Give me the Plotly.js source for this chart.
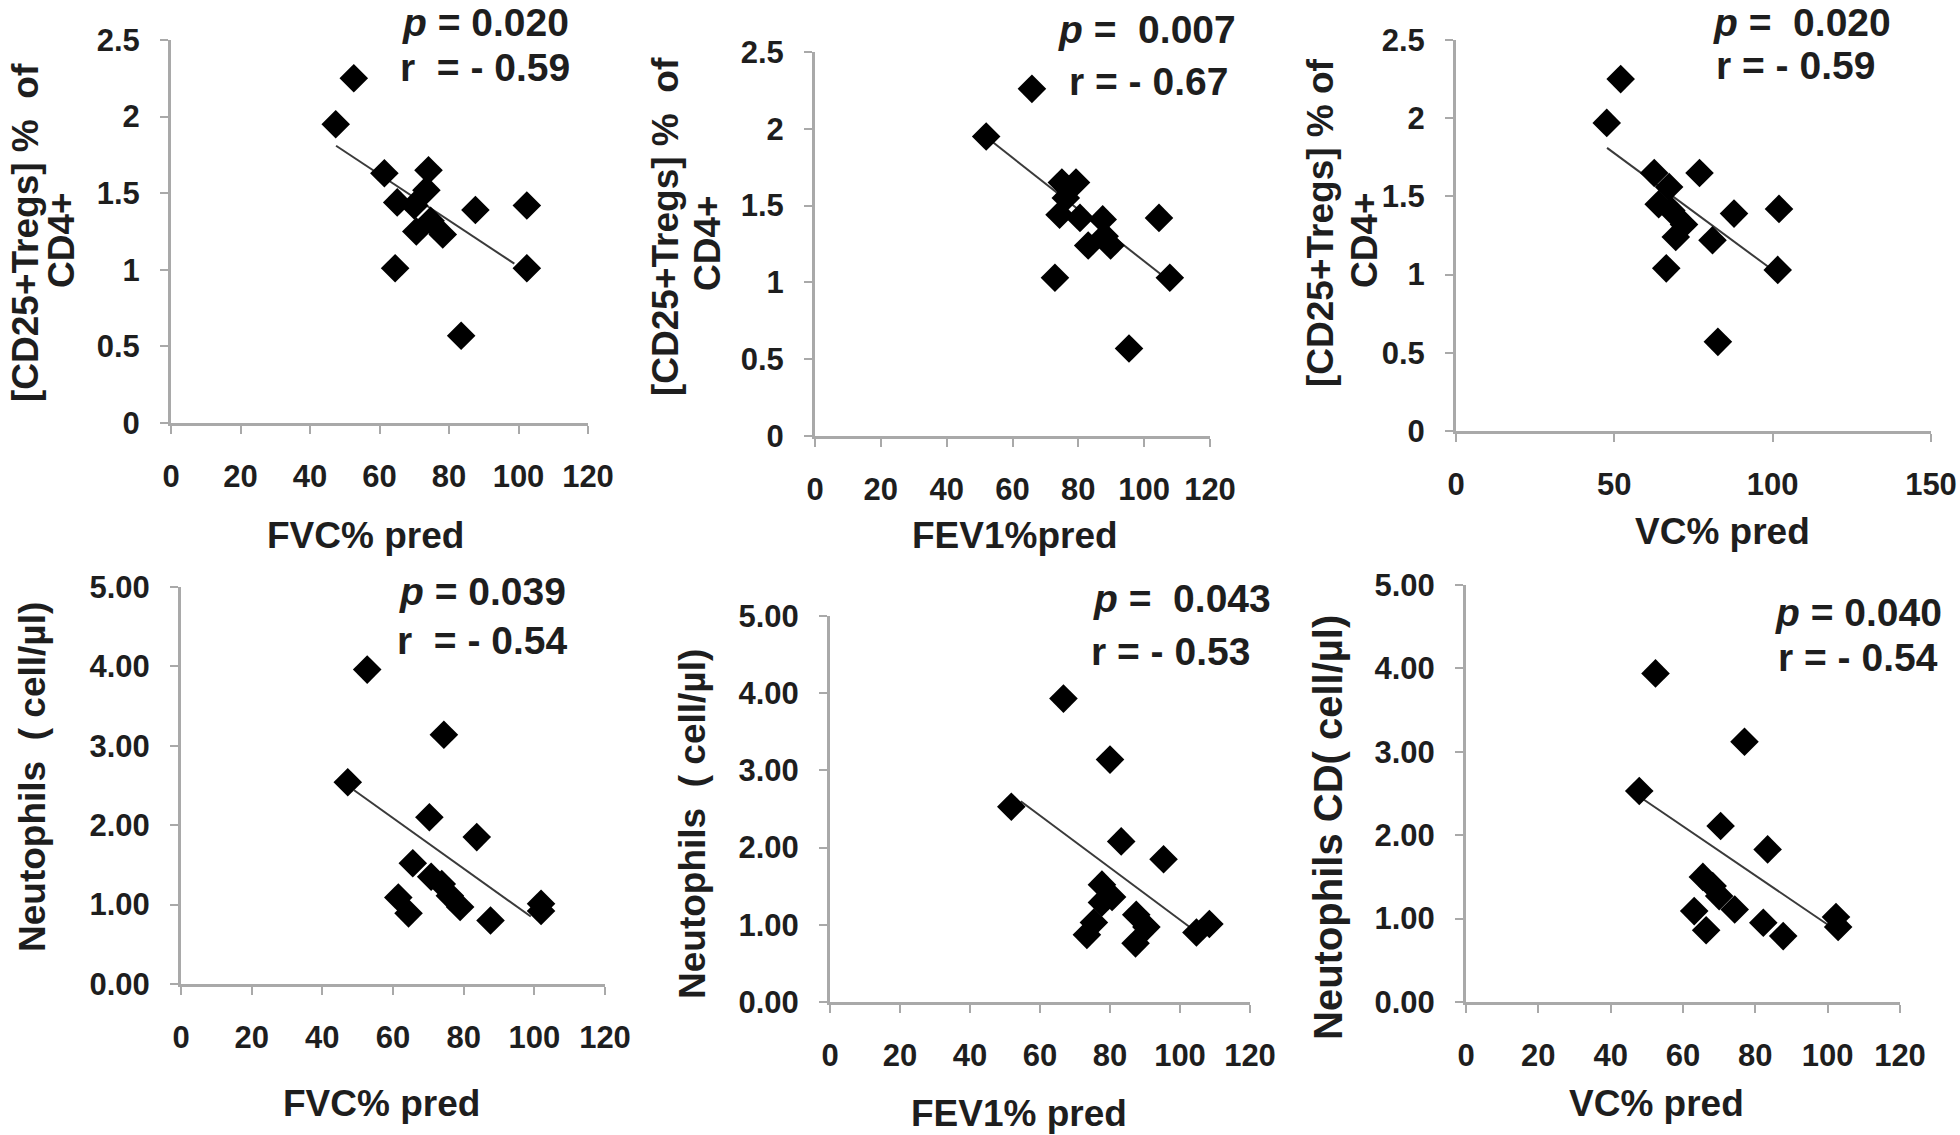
<!DOCTYPE html>
<html><head><meta charset="utf-8">
<script src="https://cdn.plot.ly/plotly-3.0.1.min.js"></script>
<style>html,body{margin:0;padding:0;background:#fff}</style></head>
<body><div id="chart" style="width:1960px;height:1135px"></div>
<script>
// ---- data ----
const fvcTregsX = [52.6,47.4,61.4,74.1,73.5,65.1,70.0,87.6,102.4,70.6,74.7,78.2,64.5,102.4,83.5];
const fvcTregsY = [2.25,1.95,1.63,1.65,1.52,1.44,1.42,1.39,1.42,1.25,1.32,1.23,1.01,1.01,0.57];
const fev1TregsX = [65.9,52.0,75.0,79.3,76.2,74.3,80.5,87.4,104.5,88.0,83.0,89.8,72.9,107.8,95.4];
const fev1TregsY = [2.26,1.95,1.65,1.65,1.55,1.44,1.42,1.41,1.42,1.30,1.24,1.24,1.03,1.03,0.57];
const vcTregsX = [52.0,47.6,62.6,76.9,67.3,64.0,68.0,87.8,102.0,72.0,69.4,81.0,66.4,101.6,82.7];
const vcTregsY = [2.25,1.97,1.65,1.65,1.56,1.45,1.41,1.39,1.42,1.32,1.24,1.22,1.04,1.03,0.57];
const fvcNeutX = [52.7,74.4,47.2,70.3,83.7,65.6,70.8,73.8,76.1,79.0,61.5,64.4,87.6,101.9,101.9];
const fvcNeutY = [3.96,3.14,2.54,2.10,1.85,1.52,1.35,1.26,1.11,0.97,1.09,0.89,0.80,1.01,0.92];
const fev1NeutX = [66.7,80.0,51.8,83.2,95.3,77.7,80.6,77.7,75.4,73.4,87.5,90.4,87.3,104.7,108.4];
const fev1NeutY = [3.93,3.14,2.53,2.08,1.85,1.52,1.36,1.29,1.03,0.87,1.13,0.97,0.76,0.90,1.01];
const vcNeutX = [52.4,77.0,47.9,70.4,83.4,65.5,68.2,70.0,74.3,63.1,66.4,82.2,87.7,102.3,102.9];
const vcNeutY = [3.94,3.12,2.53,2.11,1.83,1.50,1.39,1.27,1.11,1.09,0.86,0.95,0.79,1.02,0.90];

// trend line end points
const fvcTregsTrendX = [47.5,98.8],  fvcTregsTrendY = [1.81,1.04];
const fev1TregsTrendX = [53.0,107.0], fev1TregsTrendY = [1.93,1.02];
const vcTregsTrendX = [47.7,98.6],   vcTregsTrendY = [1.81,1.05];
const fvcNeutTrendX = [49.0,99.0],   fvcNeutTrendY = [2.44,0.85];
const fev1NeutTrendX = [54.5,104.0], fev1NeutTrendY = [2.60,0.93];
const vcNeutTrendX = [48.7,102.3],   vcNeutTrendY = [2.44,0.86];

const xTitles = ["FVC% pred","FEV1%pred","VC% pred","FVC% pred","FEV1% pred","VC% pred"];
const yTitles = [["[CD25+Tregs] %&nbsp;&nbsp;of","CD4+"],["[CD25+Tregs] %&nbsp;&nbsp;of","CD4+"],["[CD25+Tregs] % of","CD4+"],
                 ["Neutophils&nbsp;&nbsp;( cell/µl)"],["Neutophils&nbsp;&nbsp;( cell/µl)"],["Neutophils CD( cell/µl)"]];
const pTexts = ["<i>p</i> = 0.020","<i>p</i> =&nbsp;&nbsp;0.007","<i>p</i> =&nbsp;&nbsp;0.020","<i>p</i> = 0.039","<i>p</i> =&nbsp;&nbsp;0.043","<i>p</i> = 0.040"];
const rTexts = ["r&nbsp;&nbsp;= - 0.59","r = - 0.67","r = - 0.59","r&nbsp;&nbsp;= - 0.54","r = - 0.53","r = - 0.54"];
const xRanges = [[0,120],[0,120],[0,150],[0,120],[0,120],[0,120]];
const xDticks = [20,20,50,20,20,20];
const yRanges = [[0,2.5],[0,2.5],[0,2.5],[0,5],[0,5],[0,5]];
const yDticks = [0.5,0.5,0.5,1,1,1];
const yFormats = ["","","",".2f",".2f",".2f"];

// ---- layout (pixel boxes) ----
const W = 1960, H = 1135;
const px = v => v / W, py = v => 1 - v / H;
const boxes = [ // x0,x1,yTop,yBottom in px
  [171,588,40,423],[815,1210,52,436],[1456,1931,40,431],
  [181,605,587,984],[830,1250,616,1002],[1466,1900,585,1002]];
const xTitlePos = [[365,535],[1015,535],[1722,531],[381,1103],[1019,1113],[1656,1103]];
const yTitlePos = [[[26,233],[62,240]],[[666,227],[708,243]],[[1320,223],[1365,240]],
                   [[33,777]],[[692,824]],[[1328,828]]];
const yTitleSizes = [37,37,37,37,37,40];
const pPos = [[485,23],[1147,29],[1802,23],[482,591],[1182,598],[1858,612]];
const rPos = [[485,68],[1148,82],[1795,66],[482,640],[1170,651],[1858,657]];

const FONT = "Liberation Sans, Arial, sans-serif";
const seriesX = [fvcTregsX,fev1TregsX,vcTregsX,fvcNeutX,fev1NeutX,vcNeutX];
const seriesY = [fvcTregsY,fev1TregsY,vcTregsY,fvcNeutY,fev1NeutY,vcNeutY];
const trendX = [fvcTregsTrendX,fev1TregsTrendX,vcTregsTrendX,fvcNeutTrendX,fev1NeutTrendX,vcNeutTrendX];
const trendY = [fvcTregsTrendY,fev1TregsTrendY,vcTregsTrendY,fvcNeutTrendY,fev1NeutTrendY,vcNeutTrendY];

const traces = [];
const layout = {
  width: W, height: H, margin: {l:0,r:0,t:0,b:0},
  paper_bgcolor: "#fff", plot_bgcolor: "#fff", showlegend: false,
  font: {family: FONT, color: "#1a1a1a"},
  annotations: []
};
for (let i = 0; i < 6; i++) {
  const s = i === 0 ? "" : String(i + 1);
  traces.push({x: trendX[i], y: trendY[i], xaxis: "x" + s, yaxis: "y" + s, type: "scatter", mode: "lines",
               line: {color: "#3a3a3a", width: 2}, hoverinfo: "skip"});
  traces.push({x: seriesX[i], y: seriesY[i], xaxis: "x" + s, yaxis: "y" + s, type: "scatter", mode: "markers",
               marker: {symbol: "diamond", size: 22, color: "#000"}, cliponaxis: false});
  const b = boxes[i];
  const axCommon = {showgrid: false, zeroline: false, showline: true, linecolor: "#a9a9a9", linewidth: 3,
    ticks: "outside", ticklen: 8, tickwidth: 2, tickcolor: "#a9a9a9",
    tickfont: {family: FONT, size: 31, weight: "bold", color: "#1e1e1e"}, fixedrange: true};
  layout["xaxis" + s] = Object.assign({}, axCommon, {domain: [px(b[0]), px(b[1])], range: xRanges[i], dtick: xDticks[i],
    tick0: 0, anchor: "y" + s, ticklabelstandoff: 16});
  layout["yaxis" + s] = Object.assign({}, axCommon, {domain: [py(b[3]), py(b[2])], range: yRanges[i], dtick: yDticks[i],
    tick0: 0, tickformat: yFormats[i], anchor: "x" + s, ticklabelstandoff: 14});
  layout.annotations.push({xref: "paper", yref: "paper", x: px(xTitlePos[i][0]), y: py(xTitlePos[i][1]),
    xanchor: "center", yanchor: "middle", showarrow: false, text: xTitles[i],
    font: {family: FONT, size: 37, weight: "bold", color: "#1e1e1e"}});
  yTitles[i].forEach((t, k) => {
    layout.annotations.push({xref: "paper", yref: "paper", x: px(yTitlePos[i][k][0]), y: py(yTitlePos[i][k][1]),
      xanchor: "center", yanchor: "middle", showarrow: false, text: t, textangle: -90,
      font: {family: FONT, size: yTitleSizes[i], weight: "bold", color: "#1e1e1e"}});
  });
  layout.annotations.push({xref: "paper", yref: "paper", x: px(pPos[i][0]), y: py(pPos[i][1]),
    xanchor: "center", yanchor: "middle", showarrow: false, text: pTexts[i],
    font: {family: FONT, size: 39, weight: "bold", color: "#1e1e1e"}});
  layout.annotations.push({xref: "paper", yref: "paper", x: px(rPos[i][0]), y: py(rPos[i][1]),
    xanchor: "center", yanchor: "middle", showarrow: false, text: rTexts[i],
    font: {family: FONT, size: 39, weight: "bold", color: "#1e1e1e"}});
}
Plotly.newPlot("chart", traces, layout, {displayModeBar: false, staticPlot: true});
</script></body></html>
